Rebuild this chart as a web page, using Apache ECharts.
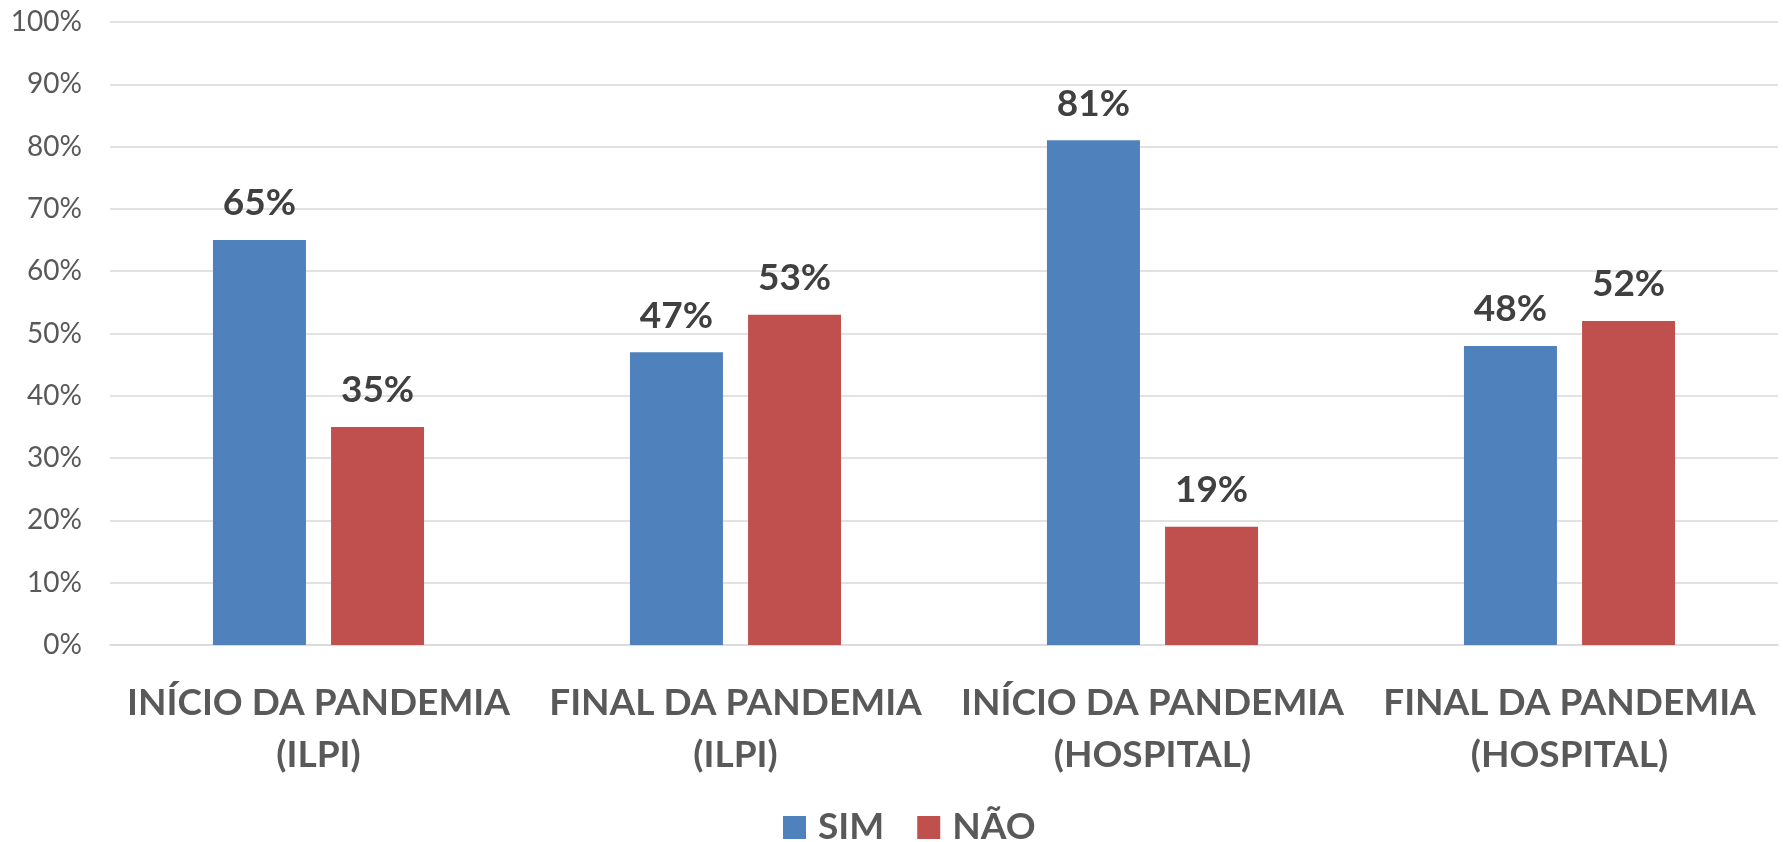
<!DOCTYPE html>
<html>
<head>
<meta charset="utf-8">
<script src="https://cdn.jsdelivr.net/npm/echarts@6/dist/echarts.min.js"></script>
<style>
html,body{margin:0;padding:0;background:#fff;}
#chart{width:1783px;height:842px;}
</style>
</head>
<body>
<div id="chart"></div>
<script>
const categories = ['INÍCIO DA PANDEMIA\n(ILPI)', 'FINAL DA PANDEMIA\n(ILPI)', 'INÍCIO DA PANDEMIA\n(HOSPITAL)', 'FINAL DA PANDEMIA\n(HOSPITAL)'];
const seriesNames = ['SIM', 'NÃO'];
const simValues = [65, 47, 81, 48];
const naoValues = [35, 53, 19, 52];
const yTicks = [0, 10, 20, 30, 40, 50, 60, 70, 80, 90, 100];

const FONT = 'Lato';
const chart = echarts.init(document.getElementById('chart'), null, {renderer: 'canvas'});
const labelStyle = {
  show: true, position: 'top', distance: 18,
  formatter: '{c}%', fontFamily: FONT, fontWeight: 'bold', fontSize: 37, color: '#404040'
};
chart.setOption({
  animation: false,
  backgroundColor: '#ffffff',
  grid: {left: 110, right: 5, top: 22, bottom: 197, containLabel: false},
  legend: {
    data: seriesNames, left: 778, top: 804, padding: 5, icon: 'rect',
    itemWidth: 23, itemHeight: 23, itemGap: 33,
    textStyle: {fontFamily: FONT, fontWeight: 'bold', fontSize: 37, color: '#595959', lineHeight: 37, padding: [0, 0, 0, 7]}
  },
  xAxis: {
    type: 'category', data: categories,
    axisLine: {show: true, lineStyle: {color: '#D9D9D9', width: 1.5}},
    axisTick: {show: false},
    axisLabel: {interval: 0, margin: 32, fontFamily: FONT, fontWeight: 'bold', fontSize: 37, lineHeight: 52, color: '#595959'}
  },
  yAxis: {
    type: 'value', min: yTicks[0], max: yTicks[yTicks.length - 1], interval: 10,
    axisLine: {show: false}, axisTick: {show: false},
    splitLine: {lineStyle: {color: '#D9D9D9', width: 1.5}},
    axisLabel: {margin: 28, formatter: '{value}%', fontFamily: FONT, fontSize: 28, color: '#595959'}
  },
  series: [
    {name: seriesNames[0], type: 'bar', data: simValues, barWidth: '22.3%', barGap: '27%',
     itemStyle: {color: '#4F81BD'}, label: labelStyle},
    {name: seriesNames[1], type: 'bar', data: naoValues, barWidth: '22.3%', barGap: '27%',
     itemStyle: {color: '#C0504D'}, label: labelStyle}
  ]
});
</script>
</body>
</html>
